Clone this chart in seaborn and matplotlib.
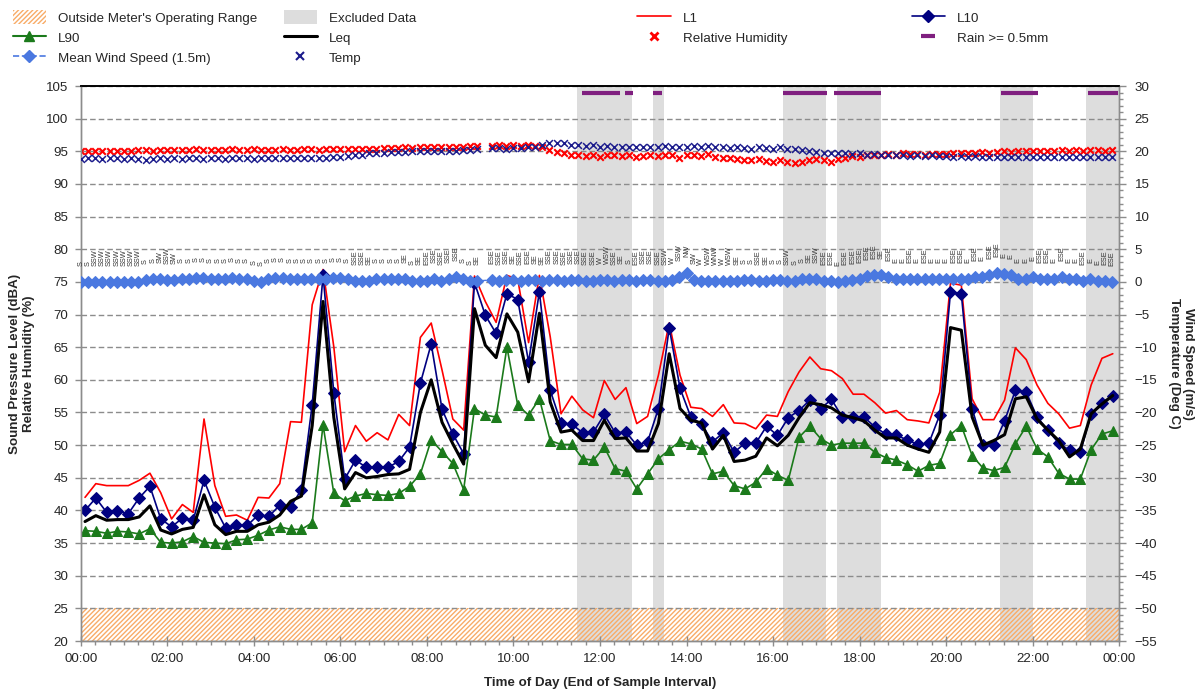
import numpy as np
import pandas as pd
import matplotlib
matplotlib.use("Agg")
import matplotlib.pyplot as plt
import seaborn as sns
from matplotlib.patches import Patch
from matplotlib.lines import Line2D
from matplotlib.ticker import MultipleLocator

# ---------------- data ----------------
# noise levels, 15-minute intervals (dBA)
L1 = [42.0, 44.1, 43.8, 43.8, 43.8, 44.6, 45.7, 42.7, 38.7, 40.9,
      39.7, 54.0, 43.8, 39.1, 39.3, 38.5, 42.0, 41.9, 44.1, 53.6,
      53.5, 71.5, 76.9, 65.0, 49.0, 53.0, 50.6, 51.9, 50.8, 54.7,
      53.0, 66.5, 68.7, 61.5, 54.0, 52.3, 75.9, 72.0, 68.8, 76.0,
      75.4, 65.7, 76.0, 66.6, 54.8, 57.5, 55.4, 54.2, 59.9, 57.0,
      58.8, 53.3, 54.4, 60.7, 68.7, 60.7, 55.8, 55.6, 54.4, 56.2,
      53.4, 53.3, 52.5, 54.6, 54.4, 58.2, 61.2, 63.5, 61.7, 61.4,
      60.2, 57.8, 57.8, 56.5, 54.9, 55.3, 53.9, 53.7, 53.4, 58.1,
      74.8, 74.5, 57.1, 53.9, 53.9, 56.9, 64.9, 63.1, 59.2, 56.4,
      54.8, 52.6, 53.0, 59.2, 63.3, 64.0]
L10 = [40.0, 41.9, 39.7, 39.9, 39.5, 41.9, 43.7, 38.7, 37.5, 38.8,
       38.5, 44.6, 40.5, 37.3, 37.7, 37.7, 39.3, 39.1, 40.8, 40.5,
       43.2, 56.2, 76.0, 58.0, 44.8, 47.7, 46.6, 46.6, 46.6, 47.5,
       49.7, 59.5, 65.5, 55.5, 51.7, 48.7, 74.9, 69.9, 67.1, 73.2,
       72.3, 62.7, 73.5, 58.4, 53.4, 53.2, 51.9, 52.0, 54.7, 51.9,
       52.0, 50.0, 50.5, 55.6, 68.0, 58.7, 54.3, 53.2, 50.5, 51.9,
       48.9, 50.3, 50.3, 52.9, 51.5, 54.2, 55.3, 56.9, 55.6, 57.0,
       54.3, 54.3, 54.3, 52.8, 51.7, 51.5, 50.8, 50.1, 50.3, 54.6,
       73.5, 73.2, 55.6, 50.0, 50.0, 53.7, 58.4, 58.1, 54.3, 52.3,
       50.3, 49.2, 48.9, 54.8, 56.5, 57.6]
L90 = [36.9, 36.8, 36.5, 36.8, 36.7, 36.4, 37.2, 35.1, 35.0, 35.2,
       36.0, 35.1, 35.0, 34.9, 35.5, 35.6, 36.2, 37.0, 37.5, 37.1,
       37.1, 38.1, 53.1, 42.6, 41.5, 42.2, 42.6, 42.4, 42.3, 42.6,
       43.7, 45.6, 50.8, 49.0, 47.2, 43.2, 55.6, 54.6, 54.3, 65.0,
       56.1, 54.6, 57.1, 50.7, 50.1, 50.1, 47.9, 47.7, 49.7, 46.4,
       46.0, 43.3, 45.6, 47.9, 49.3, 50.6, 50.2, 49.4, 45.6, 46.0,
       43.8, 43.3, 44.3, 46.4, 45.4, 44.6, 51.2, 52.9, 51.0, 50.0,
       50.3, 50.3, 50.3, 48.9, 48.1, 47.7, 47.0, 46.0, 46.9, 47.2,
       51.6, 53.0, 48.4, 46.5, 46.1, 46.6, 50.2, 52.9, 49.4, 48.2,
       45.7, 44.8, 44.8, 49.3, 51.7, 52.2]
Leq = [38.3, 39.2, 38.5, 38.6, 38.6, 39.0, 40.7, 37.0, 36.4, 37.1,
       37.4, 42.4, 37.8, 36.3, 36.8, 36.8, 37.8, 38.2, 39.3, 41.4,
       42.2, 53.0, 72.0, 54.2, 43.3, 45.8, 45.0, 45.2, 45.5, 45.6,
       46.3, 55.0, 60.0, 53.5, 50.2, 47.1, 70.9, 65.3, 63.4, 70.1,
       67.3, 59.7, 70.2, 56.6, 52.0, 52.3, 50.7, 50.7, 53.8, 51.0,
       51.1, 49.1, 49.1, 53.3, 64.0, 55.6, 53.8, 53.4, 49.4, 51.5,
       47.5, 47.7, 48.3, 51.1, 49.9, 51.5, 54.2, 56.5, 56.2, 55.7,
       54.6, 54.2, 53.7, 52.3, 51.1, 51.1, 50.0, 49.4, 48.9, 52.0,
       68.0, 67.6, 54.3, 50.0, 50.7, 51.6, 57.1, 57.4, 54.0, 52.3,
       50.7, 48.2, 49.4, 54.8, 56.3, 57.6]

# weather, 10-minute intervals
wind_speed = [0, 0, 0, 0, 0, 0, 0, 0, 0, 0.3,
              0.4, 0.4, 0.3, 0.3, 0.5, 0.5, 0.65, 0.65, 0.5, 0.4,
              0.5, 0.65, 0.5, 0.4, 0.15, 0, 0.4, 0.65, 0.65, 0.5,
              0.5, 0.4, 0.4, 0.5, 0.5, 0.65, 0.65, 0.4, 0.15, 0.15,
              0.15, 0.5, 0.5, 0.5, 0.4, 0.4, 0.15, 0.15, 0.15, 0.4,
              0.15, 0.4, 0.8, 0.4, 0.15, 0.15, np.nan, 0.3, 0.15, 0.3,
              0.3, 0.15, 0.3, 0.3, 0.15, 0.3, 0.3, 0.15, 0.3, 0.3,
              0.15, 0.15, 0.3, 0.3, 0.15, 0.3, 0.3, 0.15, 0.3, 0.3,
              0.15, 0.15, 0.3, 0.8, 1.3, 0.3, 0.15, 0.15, 0.15, 0.15,
              0.15, 0.15, 0.3, 0.3, 0.15, 0.15, 0.3, 0.3, 0.15, 0.15,
              0.5, 0.5, 0.5, 0.15, 0.15, 0.0, 0.15, 0.3, 0.5, 0.9,
              1.0, 1.0, 0.8, 0.5, 0.5, 0.4, 0.5, 0.5, 0.4, 0.5,
              0.5, 0.5, 0.5, 0.5, 0.8, 0.8, 1.0, 1.4, 1.2, 1.0,
              0.5, 0.5, 0.8, 0.5, 0.4, 0.5, 0.8, 0.5, 0.4, 0.15,
              0.4, 0.15, 0.15, 0.0]
wind_dir = ("S S SSW SSW SSW SSW SSW SSW SSW S S SW SSW SW S S S S S S "
            "S S S S S S S S S S S S S S S S S S SSE SSE "
            "SE S S S S SE S SE ESE SSE SSE SSE SSE S S SE - ESE SSE SSE "
            "SE SSE ESE SE SE SSE SSE SSE SSE SSE SSE SSE W WSW SSE SE S ESE SSE SSE "
            "SSE SSW W SSW NW SW W WSW WNW W WSW SE S S SSE SE S S SSW S "
            "S SE SSW ESE ESE E ESE ESE ESE ESE ESE SE ESE E E ESE E ESE E E "
            "E ESE ESE E ESE E ESE ESE E E E E E ESE ESE E ESE E E ESE "
            "E E ESE ESE").split()
humidity = [95.0, 95.0, 95.0, 95.1, 95.0, 95.0, 95.1, 95.0, 95.2, 95.2,
            95.1, 95.2, 95.2, 95.2, 95.2, 95.2, 95.3, 95.2, 95.2, 95.2,
            95.2, 95.3, 95.2, 95.2, 95.3, 95.2, 95.2, 95.2, 95.3, 95.2,
            95.2, 95.3, 95.3, 95.2, 95.3, 95.3, 95.3, 95.3, 95.3, 95.4,
            95.4, 95.4, 95.5, 95.5, 95.5, 95.6, 95.5, 95.6, 95.6, 95.7,
            95.6, 95.7, 95.6, 95.7, 95.8, 95.8, np.nan, 95.8, 95.9, 95.8,
            95.9, 95.8, 95.9, 95.8, 95.6, 95.2, 94.9, 94.7, 94.5, 94.5,
            94.3, 94.5, 94.2, 94.4, 94.5, 94.3, 94.5, 94.2, 94.3, 94.5,
            94.3, 94.5, 94.4, 94.0, 94.4, 94.5, 94.3, 94.6, 94.1, 93.9,
            94.0, 93.8, 93.7, 93.6, 93.8, 93.5, 93.4, 93.6, 93.4, 93.2,
            93.3, 93.6, 93.8, 93.7, 93.4, 93.8, 94.0, 94.3, 94.2, 94.4,
            94.5, 94.5, 94.6, 94.5, 94.7, 94.6, 94.6, 94.5, 94.6, 94.6,
            94.6, 94.7, 94.8, 94.8, 94.8, 94.9, 94.8, 94.9, 95.0, 94.9,
            95.0, 95.0, 95.1, 95.0, 95.1, 95.1, 95.2, 95.1, 95.2, 95.1,
            95.2, 95.2, 95.1, 95.2]
temperature = [18.8, 18.9, 18.9, 18.8, 18.9, 18.9, 18.8, 18.9, 18.8, 18.7,
               18.8, 18.9, 18.8, 18.9, 18.8, 18.9, 18.9, 18.8, 18.9, 18.9,
               18.8, 18.9, 18.9, 18.9, 18.8, 18.9, 18.9, 19.0, 18.9, 19.0,
               18.9, 19.0, 19.0, 18.9, 19.0, 19.1, 19.2, 19.3, 19.4, 19.5,
               19.7, 19.8, 19.8, 19.9, 19.9, 19.9, 20.0, 20.0, 20.0, 20.1,
               20.0, 20.1, 20.1, 20.2, 20.2, 20.3, np.nan, 20.5, 20.5, 20.4,
               20.5, 20.5, 20.6, 20.6, 21.0, 21.3, 21.3, 21.2, 21.0, 21.0,
               20.8, 20.9, 20.7, 20.8, 20.6, 20.7, 20.6, 20.7, 20.6, 20.7,
               20.7, 20.8, 20.7, 20.6, 20.7, 20.8, 20.7, 20.8, 20.6, 20.7,
               20.5, 20.6, 20.5, 20.4, 20.6, 20.5, 20.4, 20.6, 20.4, 20.3,
               20.2, 20.0, 19.9, 19.8, 19.7, 19.8, 19.7, 19.6, 19.7, 19.5,
               19.6, 19.5, 19.4, 19.5, 19.4, 19.3, 19.4, 19.3, 19.4, 19.3,
               19.3, 19.2, 19.3, 19.2, 19.3, 19.2, 19.2, 19.1, 19.2, 19.1,
               19.2, 19.1, 19.2, 19.1, 19.2, 19.1, 19.2, 19.1, 19.2, 19.1,
               19.2, 19.1, 19.2, 19.1]

excluded_start = ["11:28", "13:14", "16:14", "17:29", "21:14", "23:14"]
excluded_end = ["12:45", "13:29", "17:14", "18:29", "22:00", "24:00"]
rain_start = ["11:35", "12:34", "13:14", "16:14", "17:25", "21:16", "23:16"]
rain_end = ["12:28", "12:46", "13:26", "17:15", "18:29", "22:07", "23:58"]
rain_level = 29.0            # marker row on the right axis
operating_floor = 25         # meter lower limit (dBA)

x_ticks = ["00:00", "02:00", "04:00", "06:00", "08:00", "10:00", "12:00",
           "14:00", "16:00", "18:00", "20:00", "22:00", "00:00"]


def hours(s):
    h, m = s.split(":")
    return int(h) + int(m) / 60.0


noise_t = (6 + 15 * np.arange(len(L1))) / 60.0
wx_t = (10 * np.arange(len(wind_speed))) / 60.0

noise = pd.DataFrame({"t": noise_t, "L1": L1, "L10": L10, "L90": L90, "Leq": Leq})
wx = pd.DataFrame({"t": wx_t, "wind": wind_speed, "hum": humidity, "temp": temperature})

# ---------------- style ----------------
sns.set_theme(style="white")
plt.rcParams["font.family"] = ["Liberation Sans", "DejaVu Sans"]
plt.rcParams["hatch.linewidth"] = 1.0
FS = 9.6

C_L1 = "#FF0000"
C_L10 = "#000080"
C_L90 = "#1B7A1B"
C_LEQ = "#000000"
C_WIND = "#4A78E0"
C_TEMP = "#1C1C8C"
C_HUM = "#FF0000"
C_RAIN = "#7F1F7F"
C_EXCL = "#DDDDDD"
C_HATCH = "#F8AC68"
C_GRID = "#8C8C8C"
C_SPINE = "#8C8C8C"

fig = plt.figure(figsize=(11.99, 6.93), dpi=100)
ax = fig.add_axes([0.0673, 0.075, 0.8662, 0.8009])
ax2 = ax.twinx()

ax.set_xlim(0, 24)
ax.set_ylim(20, 105)
ax2.set_ylim(-55, 30)

# excluded periods and meter range
for s, e in zip(excluded_start, excluded_end):
    ax.axvspan(hours(s), hours(e), facecolor=C_EXCL, edgecolor="none", zorder=0.2)
ax.axhspan(20, operating_floor, facecolor="none", edgecolor=C_HATCH, hatch="///////",
           linewidth=0, zorder=0.5)

ax.yaxis.grid(True, linestyle=(0, (4, 2.2)), color=C_GRID, linewidth=1.0, zorder=0.6)
ax.set_axisbelow(True)

# noise series
sns.lineplot(data=noise, x="t", y="L1", ax=ax, color=C_L1, linewidth=1.2, zorder=3)
sns.lineplot(data=noise, x="t", y="L10", ax=ax, color=C_L10, linewidth=1.2, marker="D",
             markersize=6, markeredgecolor=C_L10, markerfacecolor=C_L10, zorder=4)
sns.lineplot(data=noise, x="t", y="L90", ax=ax, color=C_L90, linewidth=1.2, marker="^",
             markersize=7, markeredgecolor=C_L90, markerfacecolor=C_L90, zorder=4)
sns.lineplot(data=noise, x="t", y="Leq", ax=ax, color=C_LEQ, linewidth=2.2, zorder=5)

# humidity on left axis
sns.scatterplot(data=wx, x="t", y="hum", ax=ax, marker="x", color=C_HUM, s=22,
                linewidth=1.5, zorder=4)

# right axis: wind, temp, rain
sns.lineplot(data=wx, x="t", y="wind", ax=ax2, color=C_WIND, linewidth=1.0,
             linestyle="--", marker="D", markersize=6, markeredgecolor=C_WIND,
             markerfacecolor=C_WIND, zorder=4)
sns.scatterplot(data=wx, x="t", y="temp", ax=ax2, marker="x", color=C_TEMP, s=24,
                linewidth=1.1, zorder=4)
ax2.hlines([rain_level] * len(rain_start), [hours(s) for s in rain_start],
           [hours(e) for e in rain_end], colors=C_RAIN, linewidth=3.0, zorder=4)

for t, w, d in zip(wx_t, wind_speed, wind_dir):
    if d == "-" or np.isnan(w):
        continue
    ax2.annotate(d, (t, w), xytext=(0, 11.5), textcoords="offset points",
                 rotation=90, ha="center", va="bottom", fontsize=5.3,
                 color="#333333", zorder=6)

# axes formatting
ax.set_xticks(np.arange(0, 25, 2))
ax.set_xticklabels(x_ticks)
ax.xaxis.set_minor_locator(MultipleLocator(1 / 3))
ax.yaxis.set_major_locator(MultipleLocator(5))
ax2.yaxis.set_major_locator(MultipleLocator(5))
ax2.yaxis.set_minor_locator(MultipleLocator(1))

ax.tick_params(axis="x", which="major", direction="inout", length=7, width=1,
               color=C_SPINE, labelsize=FS, pad=5, bottom=True)
ax.tick_params(axis="x", which="minor", direction="out", length=3, width=1,
               color=C_SPINE, bottom=True)
ax.tick_params(axis="y", which="major", direction="out", length=4, width=1,
               color=C_SPINE, labelsize=FS, pad=5, left=True)
ax2.tick_params(axis="y", which="major", direction="out", length=5, width=1,
                color=C_SPINE, labelsize=FS, pad=6, right=True)
ax2.tick_params(axis="y", which="minor", direction="out", length=3, width=1,
                color=C_SPINE, right=True)

for a in (ax, ax2):
    for side in ("left", "right", "bottom"):
        a.spines[side].set_color(C_SPINE)
        a.spines[side].set_linewidth(1.0)
    a.spines["top"].set_color("#000000")
    a.spines["top"].set_linewidth(1.2)

ax.set_xlabel("Time of Day (End of Sample Interval)", fontsize=FS, fontweight="bold",
              labelpad=9)
ax.set_ylabel("Sound Pressure Level (dBA)\nRelative Humidity (%)", fontsize=FS,
              fontweight="bold", labelpad=8, linespacing=1.15)
ax2.set_ylabel("Wind Speed (m/s)\nTemperature (Deg C)", fontsize=FS,
               fontweight="bold", rotation=270, va="bottom", labelpad=8,
               linespacing=1.15)

# legend (Excel-like 4 column layout)
h_out = Patch(facecolor="white", edgecolor=C_HATCH, hatch="///////", linewidth=0)
h_exc = Patch(facecolor=C_EXCL, edgecolor="none")
h_l1 = Line2D([], [], color=C_L1, lw=1.2)
h_l10 = Line2D([], [], color=C_L10, lw=1.2, marker="D", markersize=6)
h_l90 = Line2D([], [], color=C_L90, lw=1.5, marker="^", markersize=7)
h_leq = Line2D([], [], color=C_LEQ, lw=2.2)
h_hum = Line2D([], [], color=C_HUM, lw=0, marker="x", markersize=6, markeredgewidth=2.0)
h_rain = Line2D([], [], color=C_RAIN, lw=0, marker="_", markersize=10, markeredgewidth=3)
h_wind = Line2D([], [], color=C_WIND, lw=1.2, linestyle="--", marker="D", markersize=6)
h_temp = Line2D([], [], color=C_TEMP, lw=0, marker="x", markersize=6, markeredgewidth=1.5)

cols = [
    ([h_out, h_l90, h_wind], ["Outside Meter's Operating Range", "L90", "Mean Wind Speed (1.5m)"], 0.006),
    ([h_exc, h_leq, h_temp], ["Excluded Data", "Leq", "Temp"], 0.232),
    ([h_l1, h_hum], ["L1", "Relative Humidity"], 0.527),
    ([h_l10, h_rain], ["L10", "Rain >= 0.5mm"], 0.756),
]
for hs, ls, xpos in cols:
    fig.legend(hs, ls, loc="upper left", bbox_to_anchor=(xpos, 0.993),
               frameon=False, fontsize=FS, handlelength=2.5, handleheight=1.25,
               handletextpad=0.9, labelspacing=0.42, borderaxespad=0)

fig.savefig("out.png", dpi=100)
